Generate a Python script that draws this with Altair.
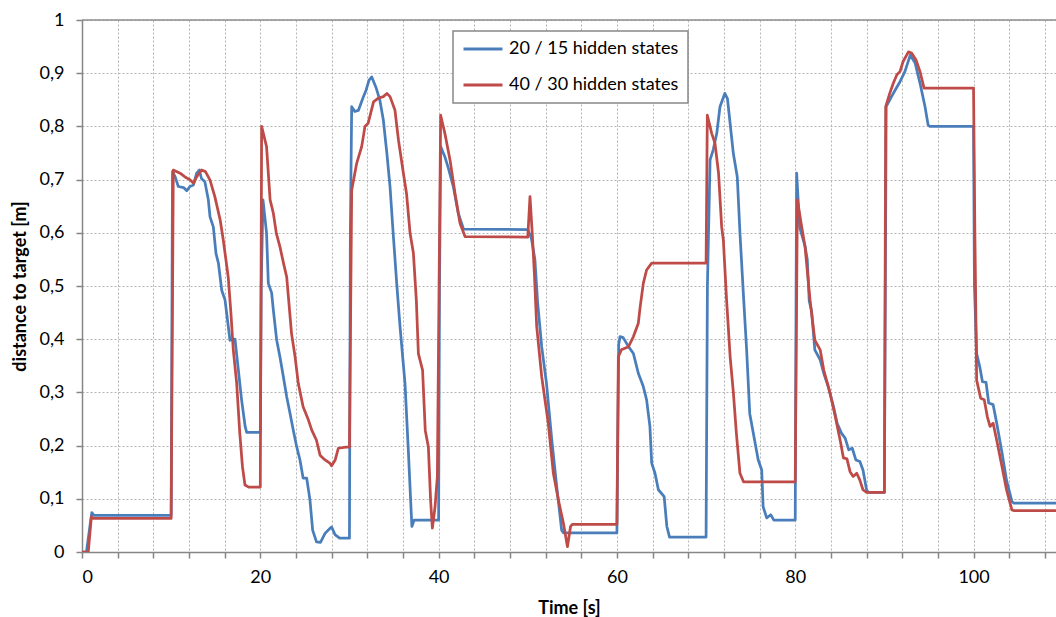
import altair as alt
import pandas as pd

series_names = ["20 / 15 hidden states", "40 / 30 hidden states"]
series_colors = ["#4a7ebb", "#be4b48"]

blue_t = [0, 0.5, 0.9, 1.1, 1.35, 10.0, 10.15, 10.45, 10.8, 11.4, 11.75, 12.1, 12.5, 12.86, 13.16, 13.4,
          13.78, 14.17, 14.36, 14.73, 15.03, 15.3, 15.67, 16.04, 16.6, 17.16, 17.5, 17.9, 18.3, 18.47,
          20.0, 20.1, 20.3, 20.7, 20.9, 21.27, 21.46, 21.84, 22.2, 22.58, 22.96, 23.33, 23.7, 24.08,
          24.45, 24.8, 25.2, 25.57, 25.87, 26.3, 26.75, 27.26, 27.8, 28.0, 28.4, 28.9, 30.0, 30.1,
          30.25, 30.6, 31.0, 31.5, 31.86, 32.2, 32.5, 33.0, 33.4, 33.8, 34.2, 34.55, 34.9, 35.3,
          35.67, 36.23, 36.6, 37.0, 37.25, 40.0, 40.1, 40.23, 40.7, 41.1, 41.65, 42.2, 42.8, 50.0,
          50.4, 50.8, 51.1, 51.56, 52.1, 52.7, 53.25, 53.8, 54.0, 60.0, 60.2, 60.35, 60.7, 61.3,
          61.85, 62.4, 62.96, 63.33, 63.7, 63.9, 64.27, 64.65, 65.0, 65.3, 65.6, 65.9, 70.0, 70.15,
          70.45, 70.8, 71.2, 71.56, 72.1, 72.4, 73.06, 73.5, 73.8, 74.2, 74.55, 74.9, 75.5, 75.85,
          76.24, 76.4, 76.8, 77.25, 77.6, 80.0, 80.1, 80.16, 80.5, 81.1, 81.35, 81.57, 81.83, 82.2,
          82.8, 83.2, 83.7, 84.3, 84.7, 85.2, 85.6, 86.0, 86.4, 86.8, 87.25, 87.6, 88.0, 88.2, 90.0,
          90.2, 90.8, 91.2, 91.75, 92.3, 92.9, 93.45, 94.0, 94.56, 94.9, 95.1, 100.0, 100.1, 100.35,
          100.7, 101.0, 101.4, 101.7, 102.2, 102.6, 103.2, 103.7, 104.3, 104.5, 110.0]
blue_v = [0, 0, 0.05, 0.074, 0.069, 0.069, 0.715, 0.705, 0.687, 0.685, 0.679, 0.687, 0.69, 0.712, 0.718, 0.702,
          0.696, 0.662, 0.63, 0.611, 0.561, 0.543, 0.492, 0.474, 0.398, 0.40, 0.348, 0.286, 0.236, 0.225,
          0.225, 0.5, 0.662, 0.60, 0.505, 0.487, 0.455, 0.398, 0.367, 0.33, 0.292, 0.261, 0.229, 0.198,
          0.173, 0.139, 0.139, 0.098, 0.041, 0.019, 0.018, 0.035, 0.044, 0.047, 0.032, 0.026, 0.026, 0.6,
          0.837, 0.828, 0.83, 0.853, 0.868, 0.887, 0.893, 0.872, 0.85, 0.812, 0.749, 0.687, 0.60, 0.505,
          0.424, 0.317, 0.192, 0.048, 0.06, 0.06, 0.5, 0.762, 0.743, 0.721, 0.687, 0.637, 0.607, 0.606,
          0.59, 0.55, 0.47, 0.386, 0.317, 0.21, 0.123, 0.041, 0.036, 0.036, 0.39, 0.405, 0.403, 0.386,
          0.373, 0.336, 0.311, 0.286, 0.236, 0.167, 0.148, 0.117, 0.11, 0.104, 0.048, 0.028, 0.028, 0.5,
          0.737, 0.756, 0.787, 0.837, 0.862, 0.852, 0.749, 0.705, 0.60, 0.48, 0.38, 0.26, 0.205, 0.173,
          0.154, 0.085, 0.064, 0.07, 0.06, 0.06, 0.5, 0.712, 0.61, 0.575, 0.55, 0.472, 0.453, 0.38,
          0.361, 0.336, 0.311, 0.273, 0.242, 0.223, 0.214, 0.192, 0.195, 0.173, 0.17, 0.154, 0.117, 0.112, 0.112,
          0.837, 0.856, 0.868, 0.884, 0.903, 0.934, 0.919, 0.881, 0.837, 0.803, 0.80, 0.80, 0.5, 0.373,
          0.348, 0.32, 0.319, 0.28, 0.277, 0.242, 0.186, 0.135, 0.095, 0.092, 0.092]

red_t = [0, 0.7, 1.05, 1.3, 10.0, 10.24, 11.0, 11.55, 12.1, 12.5, 12.86, 13.4, 13.85, 14.36, 14.9, 15.5,
         15.85, 16.4, 16.7, 16.97, 17.35, 17.7, 18.0, 18.28, 18.7, 20.0, 20.15, 20.7, 21.1, 21.46, 21.8,
         22.2, 22.6, 22.96, 23.5, 23.9, 24.26, 24.8, 25.4, 25.77, 26.3, 26.7, 27.26, 27.8, 28.0, 28.4,
         28.75, 29.6, 30.0, 30.25, 30.8, 31.37, 31.74, 32.1, 32.7, 33.24, 33.8, 34.2, 34.55, 35.1, 35.5,
         36.05, 36.4, 36.8, 37.17, 37.5, 37.73, 38.2, 38.5, 38.85, 39.1, 39.3, 39.6, 39.86, 40.05, 40.23,
         40.7, 41.28, 41.84, 42.4, 42.96, 50.0, 50.25, 50.5, 50.75, 51.0, 51.56, 52.3, 52.87, 53.43, 54.0,
         54.45, 54.8, 55.0, 60.0, 60.16, 60.5, 61.3, 61.85, 62.4, 62.6, 62.96, 63.33, 63.9, 70.0, 70.14,
         70.63, 71.0, 71.4, 71.75, 71.94, 72.3, 72.7, 73.06, 73.4, 73.8, 74.2, 80.0, 80.24, 80.7, 81.1,
         81.66, 82.2, 82.8, 83.2, 83.9, 84.5, 85.1, 85.4, 85.8, 86.15, 86.5, 86.9, 87.25, 87.6, 88.0,
         90.0, 90.15, 90.6, 91.0, 91.4, 91.75, 92.1, 92.7, 93.05, 93.55, 94.0, 94.45, 100.0, 100.15,
         100.35, 100.8, 101.2, 101.55, 101.85, 102.2, 102.6, 103.2, 103.7, 104.3, 104.5, 110.0]
red_v = [0, 0, 0.066, 0.063, 0.063, 0.718, 0.712, 0.705, 0.70, 0.693, 0.705, 0.718, 0.715, 0.699, 0.668, 0.624,
         0.586, 0.517, 0.45, 0.38, 0.317, 0.223, 0.16, 0.126, 0.122, 0.122, 0.80, 0.762, 0.662, 0.637, 0.599,
         0.574, 0.543, 0.517, 0.411, 0.367, 0.317, 0.273, 0.248, 0.229, 0.21, 0.182, 0.173, 0.167, 0.162, 0.173,
         0.195, 0.197, 0.197, 0.68, 0.73, 0.762, 0.80, 0.806, 0.846, 0.853, 0.856, 0.862, 0.856, 0.831, 0.774,
         0.712, 0.674, 0.599, 0.562, 0.474, 0.373, 0.342, 0.229, 0.198, 0.098, 0.045, 0.085, 0.142, 0.5, 0.821,
         0.787, 0.737, 0.674, 0.618, 0.593, 0.592, 0.668, 0.60, 0.52, 0.424, 0.33, 0.242, 0.148, 0.098, 0.054,
         0.01, 0.048, 0.052, 0.052, 0.367, 0.38, 0.386, 0.405, 0.43, 0.46, 0.505, 0.53, 0.543, 0.543, 0.821,
         0.787, 0.768, 0.712, 0.611, 0.586, 0.474, 0.367, 0.30, 0.223, 0.148, 0.132, 0.132, 0.662, 0.614, 0.574,
         0.474, 0.398, 0.38, 0.342, 0.299, 0.254, 0.205, 0.177, 0.175, 0.151, 0.142, 0.148, 0.135, 0.117, 0.112,
         0.112, 0.837, 0.862, 0.881, 0.897, 0.903, 0.922, 0.94, 0.938, 0.925, 0.903, 0.872, 0.872, 0.6,
         0.323, 0.289, 0.286, 0.254, 0.236, 0.242, 0.21, 0.16, 0.117, 0.079, 0.078, 0.078]

x_grid_values = list(range(0, 112, 4))
y_tick_values = [0, 0.1, 0.2, 0.3, 0.4, 0.5, 0.6, 0.7, 0.8, 0.9, 1.0]

rows = []
for i, (t, v) in enumerate(zip(blue_t, blue_v)):
    rows.append({"t": t, "v": v, "series": series_names[0], "i": i})
for i, (t, v) in enumerate(zip(red_t, red_v)):
    rows.append({"t": t, "v": v, "series": series_names[1], "i": i})
df = pd.DataFrame(rows)

FONT = "Lato"

x_enc = alt.X(
    "t:Q",
    scale=alt.Scale(domain=[0, 109.25], nice=False, zero=False),
    axis=alt.Axis(
        values=x_grid_values,
        labelExpr="datum.value % 20 == 0 ? datum.label : ''",
        title="Time [s]",
        labelPadding=10,
        titlePadding=13,
    ),
)
y_enc = alt.Y(
    "v:Q",
    scale=alt.Scale(domain=[0, 1], nice=False),
    axis=alt.Axis(
        values=y_tick_values,
        labelExpr="replace(format(datum.value, '.1~f'), '.', ',')",
        title="distance to target [m]",
        labelPadding=12,
        titlePadding=10,
    ),
)

lines = alt.Chart(df).mark_line(strokeWidth=2.75, clip=True, strokeJoin="round").encode(
    x=x_enc,
    y=y_enc,
    order="i:Q",
    color=alt.Color(
        "series:N",
        scale=alt.Scale(domain=series_names, range=series_colors),
        legend=alt.Legend(orient="none", legendX=371, legendY=11, title=None),
    ),
)

top = alt.Chart(pd.DataFrame({"y": [1.0]})).mark_rule(color="#8c8c8c", strokeWidth=1.5).encode(
    y=alt.Y("y:Q")
)

chart = (
    alt.layer(lines, top)
    .properties(
        width=974,
        height=532,
        autosize=alt.AutoSizeParams(type="none"),
        padding={"left": 82, "top": 20, "right": 0, "bottom": 65},
    )
    .configure_view(strokeWidth=0)
    .configure_axis(
        domainColor="#868686",
        domainWidth=1.5,
        tickColor="#868686",
        tickWidth=1.5,
        tickSize=6,
        gridColor="#b4b4b4",
        gridDash=[2, 2],
        gridWidth=1,
        labelFont=FONT,
        labelFontSize=18,
        labelColor="#000000",
        titleFont=FONT,
        titleFontSize=18,
        titleFontWeight="bold",
        titleColor="#000000",
    )
    .configure_legend(
        symbolType="stroke",
        symbolSize=1521,
        symbolStrokeWidth=3,
        labelFont=FONT,
        labelFontSize=18,
        labelColor="#000000",
        labelLimit=400,
        strokeColor="#888888",
        strokeWidth=1.5,
        fillColor="#ffffff",
        padding=9,
        clipHeight=18,
        rowPadding=18,
        labelOffset=5,
    )
)

chart.save("out.html", embed_options={"renderer": "svg", "actions": False})
